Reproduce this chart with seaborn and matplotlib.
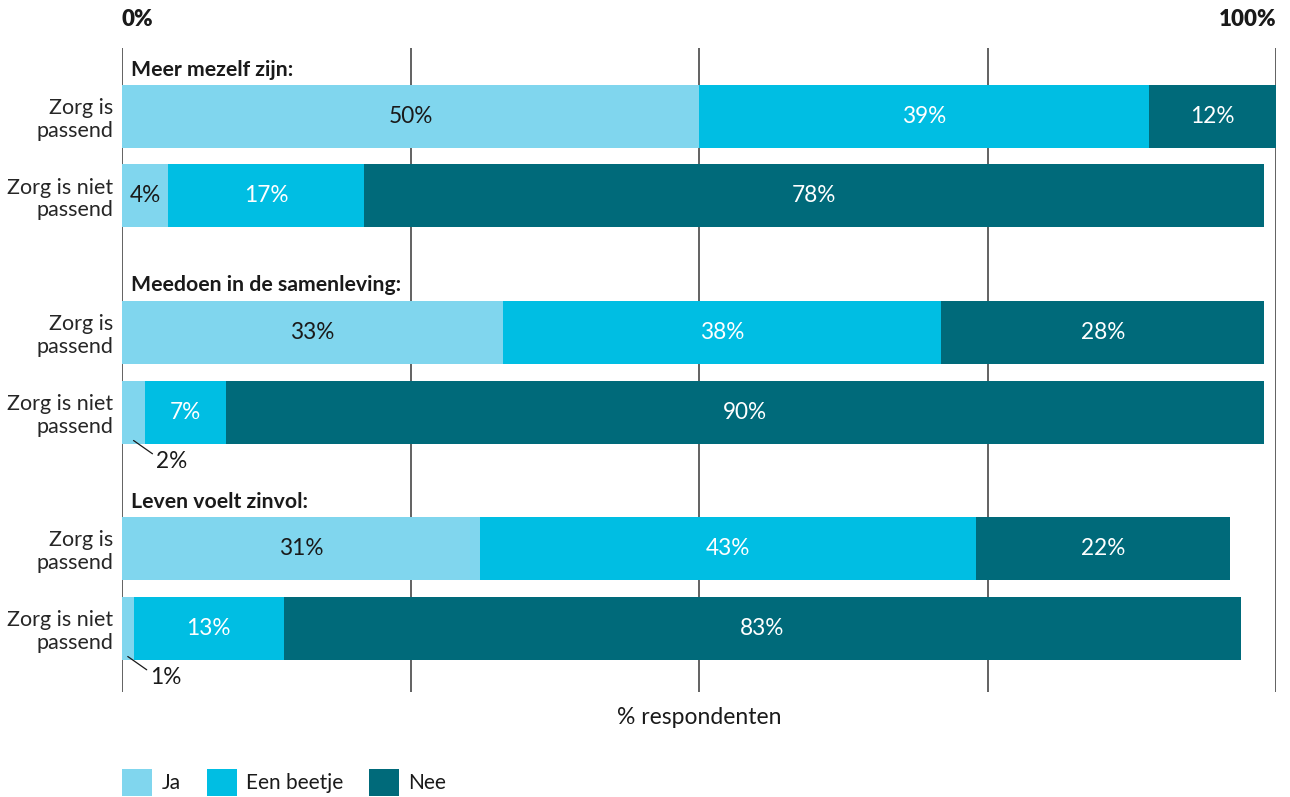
import matplotlib
matplotlib.use("Agg")
import matplotlib.pyplot as plt
from matplotlib.patches import Patch
import pandas as pd
import seaborn as sns

# Survey results: share of respondents per answer, per outcome and care fit
groups = ["Meer mezelf zijn:", "Meedoen in de samenleving:", "Leven voelt zinvol:"]
row_labels = ["Zorg is\npassend", "Zorg is niet\npassend"]
answers = ["Ja", "Een beetje", "Nee"]
ja = [50, 4, 33, 2, 31, 1]
een_beetje = [39, 17, 38, 7, 43, 13]
nee = [12, 78, 28, 90, 22, 83]
x_ticks = [0, 25, 50, 75, 100]

colors = {"Ja": "#80D6EE", "Een beetje": "#00BEE3", "Nee": "#006A7A"}
text_colors = {"Ja": "#1a1a1a", "Een beetje": "white", "Nee": "white"}

# vertical layout of the rows and group headers (top to bottom)
row_y = [116.5, 195.5, 332.5, 412.5, 548.5, 628.5]
header_y = [70, 285, 502]
y_top, y_bottom = 48, 692

sns.set_theme(style="white")
plt.rcParams["font.family"] = ["Lato", "DejaVu Sans"]
plt.rcParams["text.color"] = "#1a1a1a"

df = pd.DataFrame({
    "y": row_y,
    "label": [row_labels[i % 2] for i in range(len(row_y))],
    "Ja": ja,
    "Een beetje": een_beetje,
    "Nee": nee,
})
df["cum_ja"] = df["Ja"]
df["cum_een"] = df["Ja"] + df["Een beetje"]
df["cum_nee"] = df["cum_een"] + df["Nee"]

W, H = 1290, 797
fig = plt.figure(figsize=(W / 100, H / 100), dpi=100)
ax = fig.add_axes([122 / W, 1 - y_bottom / H, (1276 - 122) / W, (y_bottom - y_top) / H])

# stacked bars: draw the cumulative totals from back to front
for ans, col in [("Nee", "cum_nee"), ("Een beetje", "cum_een"), ("Ja", "cum_ja")]:
    sns.barplot(data=df, x=col, y="y", orient="y", native_scale=True,
                color=colors[ans], saturation=1, width=63 / 79,
                errorbar=None, linewidth=0, ax=ax)

ax.set_xlim(0, 100)
ax.set_ylim(y_bottom, y_top)
ax.set_xticks(x_ticks)
ax.set_xticklabels([])
ax.grid(axis="x", color="#555555", linewidth=1.3)
ax.grid(axis="y", visible=False)
ax.set_axisbelow(True)
for s in ax.spines.values():
    s.set_visible(False)
ax.tick_params(axis="both", length=0)
ax.set_xlabel("")
ax.set_ylabel("")

ax.set_yticks(row_y)
ax.set_yticklabels(df["label"], fontsize=15.5, ha="right", linespacing=1.15)
ax.tick_params(axis="y", pad=6.5)

# value labels
for _, r in df.iterrows():
    start = 0
    for ans in answers:
        v = r[ans]
        end = min(start + v, 100)
        if v >= 3:
            ax.text((start + end) / 2, r["y"], f"{v}%", ha="center", va="center",
                    fontsize=16.3, color=text_colors[ans])
        else:
            ax.annotate(f"{v}%", xy=((start + end) / 2, r["y"] + 28),
                        xytext=(16, -15), textcoords="offset points",
                        ha="left", va="center", fontsize=16.3, color="#1a1a1a",
                        arrowprops=dict(arrowstyle="-", color="#1a1a1a", lw=0.9,
                                        shrinkA=0, shrinkB=0, relpos=(0, 0.75)))
        start += v

# group headers
for g, hy in zip(groups, header_y):
    ax.text(0.75, hy, g, ha="left", va="center", fontsize=15.3, fontweight="bold")

# scale end labels and axis title
xt = ax.get_xaxis_transform()
ax.text(0, 1 + 28 / (y_bottom - y_top), "0%", transform=xt, ha="left", va="center",
        fontsize=16, fontweight="heavy")
ax.text(100, 1 + 28 / (y_bottom - y_top), "100%", transform=xt, ha="right", va="center",
        fontsize=16, fontweight="heavy")
ax.text(50, -26 / (y_bottom - y_top), "% respondenten", transform=xt, ha="center",
        va="center", fontsize=16.5)

handles = [Patch(facecolor=colors[a], edgecolor="none", label=a) for a in answers]
fig.legend(handles=handles, loc="lower left", bbox_to_anchor=(122 / W, 1 / H),
           ncol=3, frameon=False, fontsize=15, borderpad=0, borderaxespad=0,
           handlelength=1.44, handleheight=1.6, handletextpad=0.45,
           columnspacing=1.25)

fig.savefig("out.png", dpi=100)
